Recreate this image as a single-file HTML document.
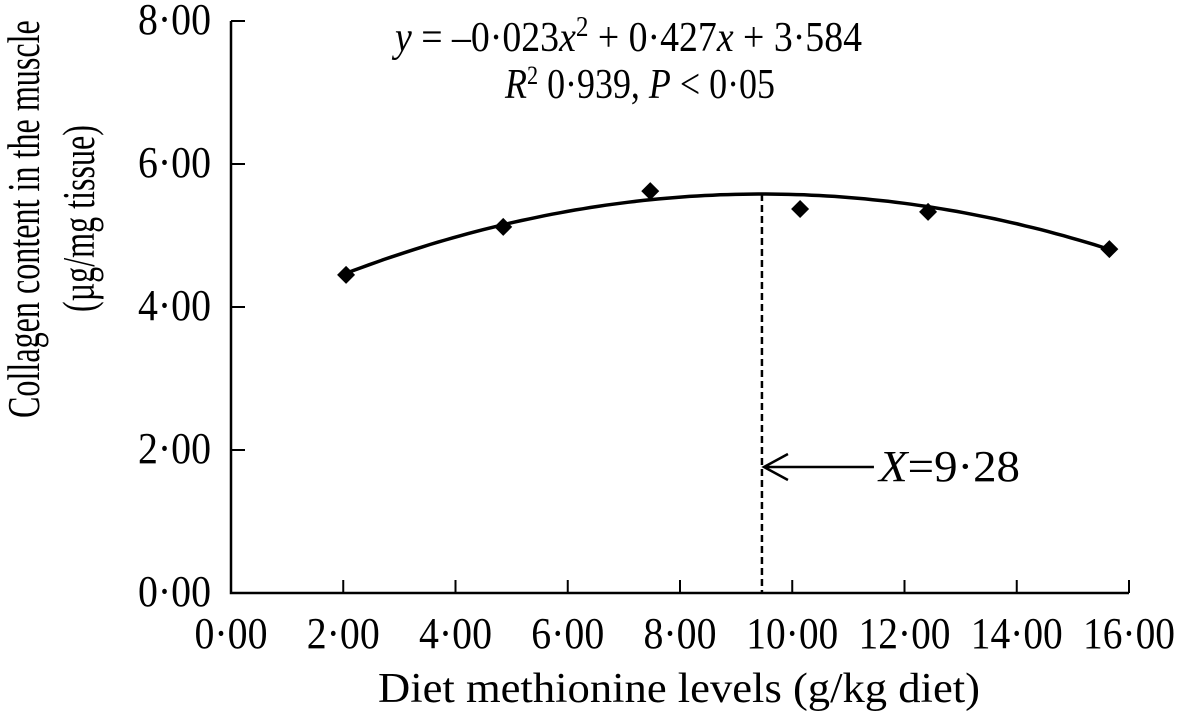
<!DOCTYPE html>
<html><head><meta charset="utf-8"><style>
html,body{margin:0;padding:0;background:#fff;}
svg{display:block;font-family:"Liberation Serif",serif;}
text,tspan{font-family:"Liberation Serif",serif;}
</style></head><body>
<svg id="chart" width="1177" height="723" viewBox="0 0 1177 723" xmlns="http://www.w3.org/2000/svg">
<text x="879" y="481" font-size="44" textLength="141" lengthAdjust="spacingAndGlyphs"><tspan font-style="italic">X</tspan><tspan>=9·28</tspan></text>
<text x="395" y="51" font-size="42" textLength="467" lengthAdjust="spacingAndGlyphs"><tspan font-style="italic">y</tspan> = –0·023<tspan font-style="italic">x</tspan><tspan dy="-15" font-size="28">2</tspan><tspan dy="15"> + 0·427</tspan><tspan font-style="italic">x</tspan> + 3·584</text>
<text x="505" y="98" font-size="42" textLength="270" lengthAdjust="spacingAndGlyphs"><tspan font-style="italic">R</tspan><tspan dy="-14" font-size="26">2</tspan><tspan dy="14"> 0·939, </tspan><tspan font-style="italic">P</tspan> &lt; 0·05</text>
<text x="378" y="702" font-size="42" textLength="602" lengthAdjust="spacingAndGlyphs">Diet methionine levels  (g/kg diet)</text>
<text id="yt1" x="0" y="0" font-size="46">Collagen content in the muscle</text>
<text id="yt2" x="0" y="0" font-size="46">(µg/mg tissue)</text>
</svg>
<script>
const xTicks = [0,2,4,6,8,10,12,14,16];
const xTickLabels = ["0·00","2·00","4·00","6·00","8·00","10·00","12·00","14·00","16·00"];
const yTicks = [0,2,4,6,8];
const yTickLabels = ["0·00","2·00","4·00","6·00","8·00"];
const methionine = [2.05,4.85,7.47,10.14,12.42,15.65];
const collagen = [4.45,5.12,5.62,5.37,5.33,4.81];
const fitVertex = [9.46,5.58];
const fitCurvature = [-0.0202];
const fitRange = [2.05,15.65];
const optimumX = [9.46];

const svg = document.getElementById('chart');
const NS = 'http://www.w3.org/2000/svg';
const X0=231, X1=1129, Y0=593, Y1=21;
const sx = v => X0 + (v-0)/(16-0)*(X1-X0);
const sy = v => Y0 - (v-0)/(8-0)*(Y0-Y1);
function mk(tag, attrs, text){
  const e=document.createElementNS(NS,tag);
  for(const k in attrs) e.setAttribute(k,attrs[k]);
  if(text!==undefined) e.textContent=text;
  svg.appendChild(e); return e;
}
const fit = x => fitVertex[1] + fitCurvature[0]*(x-fitVertex[0])*(x-fitVertex[0]);

function fitRot(id, cx, yBottom, len){
  const t=document.getElementById(id);
  const w=t.getComputedTextLength()||len;
  const s=len/w;
  t.setAttribute('transform',`translate(${cx},${yBottom}) rotate(-90) scale(${s},1)`);
}
fitRot('yt1', 39, 418, 398);
fitRot('yt2', 94, 312, 187);

let ax = mk('path',{d:`M${X0},${Y1} V${Y0} H${X1}`,stroke:'#000','stroke-width':2.5,fill:'none'});



xTicks.forEach((t,i)=>{
  if(i>0){
    const l=mk('line',{x1:sx(t),x2:sx(t),y1:Y0,y2:Y0-13,stroke:'#000','stroke-width':2});
    
    
  }
  const w = xTickLabels[i].length>4 ? 92 : 73;
  const tx=mk('text',{x:sx(t),y:648,'font-size':44,'text-anchor':'middle',textLength:w,lengthAdjust:'spacingAndGlyphs'},xTickLabels[i]);
  
  
});
yTicks.forEach((t,i)=>{
  if(i>0){
    const l=mk('line',{x1:X0,x2:X0+14,y1:sy(t),y2:sy(t),stroke:'#000','stroke-width':2});
    
    
  }
  const ty=mk('text',{x:211,y:sy(t)+13,'font-size':44,'text-anchor':'end',textLength:73,lengthAdjust:'spacingAndGlyphs'},yTickLabels[i]);
  
  
});

let d='';
for(let k=0;k<=100;k++){
  const x=fitRange[0]+(fitRange[1]-fitRange[0])*k/100;
  d+=(k?'L':'M')+sx(x).toFixed(1)+','+sy(fit(x)).toFixed(1);
}
let curve=mk('path',{d:d,stroke:'#000','stroke-width':3.5,fill:'none'});



let dl=mk('line',{x1:sx(optimumX[0]),x2:sx(optimumX[0]),y1:sy(fit(optimumX[0])),y2:Y0,stroke:'#000','stroke-width':2.5,'stroke-dasharray':'7,4'});



methionine.forEach((x,i)=>{
  const cx=sx(x), cy=sy(collagen[i]), r=9;
  const p=mk('path',{d:`M${cx},${cy-r} L${cx+r},${cy} L${cx},${cy+r} L${cx-r},${cy} Z`,fill:'#000'});
  
  
});

const ax0=sx(optimumX[0]), ay=467;
let arr=mk('path',{d:`M${ax0+112},${ay} H${ax0+2} M${ax0+26},${ay-13} L${ax0+2},${ay} L${ax0+26},${ay+13}`,stroke:'#000','stroke-width':2.5,fill:'none'});


</script>
</body></html>
